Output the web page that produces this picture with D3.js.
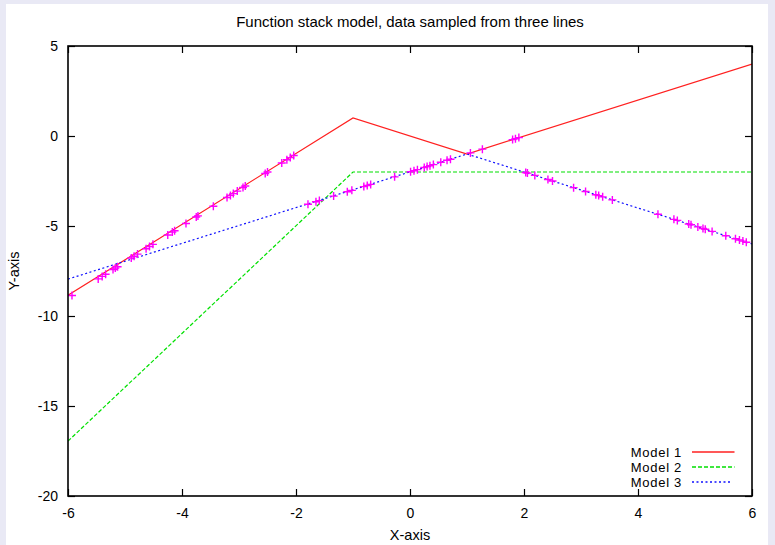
<!DOCTYPE html>
<html><head><meta charset="utf-8">
<script src="https://cdn.jsdelivr.net/npm/d3@7/dist/d3.min.js"></script>
<style>
html,body{margin:0;padding:0;background:#e9e9f5;}
svg{display:block;font-family:"Liberation Sans",Arial,Helvetica,sans-serif;}
</style></head><body>
<svg id="c" width="775" height="545"></svg>
<script>
// ---- data ----
const title = "Function stack model, data sampled from three lines";
const xTicks = [-6, -4, -2, 0, 2, 4, 6];
const yTicks = [-20, -15, -10, -5, 0, 5];
const model1X = [-6, -1, 1, 6];
const model1Y = [-8.85, 1, -1, 4];
const model2X = [-6, -1, 6];
const model2Y = [-16.95, -2, -2];
const model3X = [-6, 1, 6];
const model3Y = [-7.95, -1, -6];
const sampleX = [-5.93,-5.47,-5.40,-5.34,-5.21,-5.17,-5.13,-4.89,-4.84,-4.78,-4.63,-4.57,-4.51,-4.25,-4.17,-4.13,-3.93,-3.75,-3.72,-3.45,-3.21,-3.15,-3.10,-3.03,-2.93,-2.89,-2.54,-2.50,-2.25,-2.16,-2.10,-2.04,
  -1.79,-1.65,-1.59,-1.34,-1.10,-1.02,-0.81,-0.75,-0.69,-0.27,0.01,0.07,0.13,0.25,0.30,0.35,0.41,0.54,0.65,0.71,1.06,1.27,1.80,1.85,1.91,
  2.03,2.06,2.19,2.42,2.50,2.87,3.08,3.26,3.31,3.38,3.55,4.35,4.63,4.69,4.89,4.93,5.05,5.14,5.18,5.30,5.54,5.71,5.78,5.84,5.90];
const sampleY = [-8.86,-7.94,-7.80,-7.68,-7.42,-7.34,-7.26,-6.78,-6.68,-6.56,-6.26,-6.14,-6.02,-5.50,-5.34,-5.26,-4.86,-4.50,-4.44,-3.90,-3.42,-3.30,-3.20,-3.06,-2.86,-2.78,-2.08,-2.00,-1.50,-1.32,-1.20,-1.08,
  -3.79,-3.65,-3.59,-3.34,-3.10,-3.02,-2.81,-2.75,-2.69,-2.27,-1.99,-1.93,-1.87,-1.75,-1.70,-1.65,-1.59,-1.46,-1.35,-1.29,-0.94,-0.73,-0.20,-0.15,-0.09,
  -2.03,-2.06,-2.19,-2.42,-2.50,-2.87,-3.08,-3.26,-3.31,-3.38,-3.55,-4.35,-4.63,-4.69,-4.89,-4.93,-5.05,-5.14,-5.18,-5.30,-5.54,-5.71,-5.78,-5.84,-5.90];
const seriesNames = ["Model 1", "Model 2", "Model 3"];

// ---- layout ----
const L = 68, R = 752, T = 46, B = 496;
const svg = d3.select("#c");
svg.append("rect").attr("x", 6).attr("y", 4).attr("width", 762).attr("height", 541).attr("fill", "#fff");

const x = d3.scaleLinear().domain([-6, 6]).range([L, R]);
const y = d3.scaleLinear().domain([-20, 5]).range([B, T]);

const g = svg.append("g");
svg.append("clipPath").attr("id", "clip").append("rect").attr("x", L).attr("y", T).attr("width", R - L).attr("height", B - T);

const line = d3.line().x(d => x(d[0])).y(d => y(d[1]));
const plot = g.append("g").attr("clip-path", "url(#clip)");

const styles = [
  {color: "#ff2020", dash: null},
  {color: "#00e000", dash: "4,2"},
  {color: "#1010ff", dash: "2,2.5"}
];
const models = [
  model1X.map((v, i) => [v, model1Y[i]]),
  model2X.map((v, i) => [v, model2Y[i]]),
  model3X.map((v, i) => [v, model3Y[i]])
];
models.forEach((m, i) => {
  plot.append("path").attr("d", line(m)).attr("fill", "none")
    .attr("stroke", styles[i].color).attr("stroke-width", 1.2)
    .attr("stroke-dasharray", styles[i].dash);
});

// samples
plot.selectAll("path.pt").data(sampleX.map((v, i) => [v, sampleY[i]])).enter()
  .append("path").attr("class", "pt")
  .attr("d", d => `M${x(d[0]) - 4},${y(d[1])}H${x(d[0]) + 4}M${x(d[0])},${y(d[1]) - 4}V${y(d[1]) + 4}`)
  .attr("stroke", "#ff00ff").attr("stroke-width", 1.4).attr("fill", "none");

// axes (ticks inside, mirrored)
const tk = 7;
const fmt = d => String(d);
const axB = d3.axisBottom(x).tickValues(xTicks).tickSizeInner(-tk).tickSizeOuter(0).tickPadding(12).tickFormat(fmt);
const axT = d3.axisTop(x).tickValues(xTicks).tickSizeInner(-tk).tickSizeOuter(0).tickFormat("");
const axL = d3.axisLeft(y).tickValues(yTicks).tickSizeInner(-tk).tickSizeOuter(0).tickPadding(10).tickFormat(fmt);
const axR = d3.axisRight(y).tickValues(yTicks).tickSizeInner(-tk).tickSizeOuter(0).tickFormat("");

function styleAxis(sel) {
  sel.select(".domain").remove();
  sel.selectAll("line").attr("stroke", "#000").attr("stroke-width", 1.2);
  sel.selectAll("text").attr("fill", "#000").attr("font-size", 14).attr("font-family", "Liberation Sans, Arial, sans-serif");
}
g.append("g").attr("transform", `translate(0,${B})`).call(axB).call(styleAxis);
g.append("g").attr("transform", `translate(0,${T})`).call(axT).call(styleAxis);
g.append("g").attr("transform", `translate(${L},0)`).call(axL).call(styleAxis);
g.append("g").attr("transform", `translate(${R},0)`).call(axR).call(styleAxis);

// frame
g.append("rect").attr("x", L).attr("y", T).attr("width", R - L).attr("height", B - T)
  .attr("fill", "none").attr("stroke", "#000").attr("stroke-width", 1.6);

// title and labels
svg.append("text").attr("x", (L + R) / 2).attr("y", 27).attr("text-anchor", "middle")
  .attr("font-size", 15).text(title);
svg.append("text").attr("x", (L + R) / 2).attr("y", 540).attr("text-anchor", "middle")
  .attr("font-size", 14.5).text("X-axis");
svg.append("text").attr("transform", `translate(19,${(T + B) / 2}) rotate(-90)`).attr("text-anchor", "middle")
  .attr("font-size", 14.5).text("Y-axis");

// legend
const leg = svg.append("g");
seriesNames.forEach((n, i) => {
  const yy = 452 + i * 15;
  leg.append("text").attr("x", 682).attr("y", yy).attr("dy", "0.35em").attr("text-anchor", "end")
    .attr("font-size", 13).attr("letter-spacing", 0.7).attr("fill", "#000").text(n);
  leg.append("path")
    .attr("d", `M692,${yy}H${i === 2 ? 732 : 734.5}`)
    .attr("fill", "none")
    .attr("stroke", styles[i].color).attr("stroke-width", 1.4)
    .attr("stroke-dasharray", styles[i].dash);
});
</script>
</body></html>
